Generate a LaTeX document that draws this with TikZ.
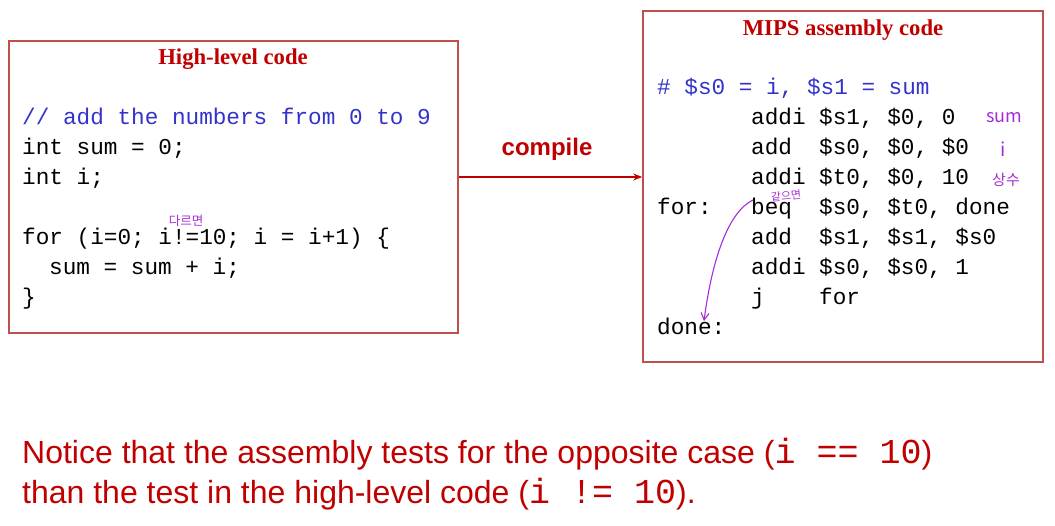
\documentclass[tikz,border=0pt]{standalone}
\usepackage{fontspec}
\setmainfont{Liberation Serif}
\setsansfont{Liberation Sans}
\setmonofont{Liberation Mono}
\newfontfamily\hangul{Noto Sans CJK KR}
\usetikzlibrary{arrows.meta}
\definecolor{titlered}{RGB}{192,0,0}
\definecolor{boxred}{RGB}{192,80,77}
\definecolor{codeblue}{RGB}{51,51,204}
\definecolor{penpurple}{RGB}{165,45,215}
\newcommand{\codefont}{\ttfamily\fontsize{22.7}{30}\selectfont}
\newcommand{\remcode}[1]{{\ttfamily\fontsize{35}{40}\selectfont #1}}
\begin{document}
\begin{tikzpicture}[x=1pt,y=-1pt]
        \tikzstyle{box_style} = [draw=boxred,line width=1.6pt,inner sep=0pt]
        \tikzstyle{title_style} = [text=titlered,font=\rmfamily\bfseries\fontsize{22.7}{26}\selectfont]
        \tikzstyle{code_style} = [anchor=base west,inner sep=0pt,font=\codefont]
        \tikzstyle{note_style} = [text=penpurple,inner sep=0pt,font=\hangul\fontsize{12.5}{14}\selectfont]
        \tikzstyle{edge_style} = [draw=titlered,line width=1.3pt,-{Stealth[length=9pt,width=7pt]}]
        \tikzstyle{remark_style} = [anchor=base west,inner sep=0pt,text=titlered,font=\sffamily\fontsize{32}{40}\selectfont]
        \useasboundingbox (0,0) rectangle (1055,526);
        % the two boxes
        \node[box_style,minimum width=449pt,minimum height=292pt] (hl) at (233.5,187) {};
        \node[box_style,minimum width=400pt,minimum height=351pt] (asm) at (643+200,186.5) {};
        \node[title_style] (hltitle) at (233,59) {High-level code};
        \node[title_style] (asmtitle) at (843,30) {MIPS assembly code};
        % high-level code
        \node[code_style,text=codeblue] (c1) at (22,125) {// add the numbers from 0 to 9};
        \node[code_style] (c2) at (22,155) {int sum = 0;};
        \node[code_style] (c3) at (22,185) {int i;};
        \node[code_style] (c4) at (22,245) {for (i=0; i!=10; i = i+1) \{};
        \node[code_style] (c5) at (49,275) {sum = sum + i;};
        \node[code_style] (c6) at (22,305) {\}};
        % assembly code
        \node[code_style,text=codeblue] (a0) at (657,95) {\# \$s0 = i, \$s1 = sum};
        \node[code_style] (op1) at (751,125) {addi};
        \node[code_style] (arg1) at (819,125) {\$s1, \$0, 0};
        \node[code_style] (op2) at (751,155) {add};
        \node[code_style] (arg2) at (819,155) {\$s0, \$0, \$0};
        \node[code_style] (op3) at (751,185) {addi};
        \node[code_style] (arg3) at (819,185) {\$t0, \$0, 10};
        \node[code_style] (lfor) at (657,215) {for:};
        \node[code_style] (op4) at (751,215) {beq};
        \node[code_style] (arg4) at (819,215) {\$s0, \$t0, done};
        \node[code_style] (op5) at (751,245) {add};
        \node[code_style] (arg5) at (819,245) {\$s1, \$s1, \$s0};
        \node[code_style] (op6) at (751,275) {addi};
        \node[code_style] (arg6) at (819,275) {\$s0, \$s0, 1};
        \node[code_style] (op7) at (751,305) {j};
        \node[code_style] (arg7) at (819,305) {for};
        \node[code_style] (ldone) at (657,335) {done:};
        % compile arrow
        \node[text=titlered,font=\sffamily\bfseries\fontsize{24}{28}\selectfont] (compile) at (547,149) {compile};
        \draw[edge_style] (hl.east |- 0,177) -- (asm.west |- 0,177);
        % handwritten notes
        \node[note_style] (n1) at (186,221) {다르면};
        \node[note_style,font=\hangul\fontsize{18}{20}\selectfont] (n2) at (1004,118) {sum};
        \node[note_style,font=\hangul\fontsize{19}{20}\selectfont] (n3) at (1003,149) {i};
        \node[note_style,font=\hangul\fontsize{15}{17}\selectfont] (n4) at (1006,180) {상수};
        \node[note_style,font=\hangul\fontsize{11}{12}\selectfont,rotate=5] (n5) at (786,196) {같으면};
        \coordinate (pstart) at (753,200);
        \coordinate (pend) at (704,321);
        \draw[penpurple,line width=1.1pt,-{Straight Barb[length=7pt,width=8pt]}]
          (pstart) .. controls (728,212) and (712,260) .. (pend);
        % remark below
        \node[remark_style] (r1) at (22,463)
          {Notice that the assembly tests for the opposite case (\remcode{i == 10})};
        \node[remark_style] (r2) at (22,503)
          {than the test in the high-level code (\remcode{i != 10}).};
      \end{tikzpicture}
\end{document}
